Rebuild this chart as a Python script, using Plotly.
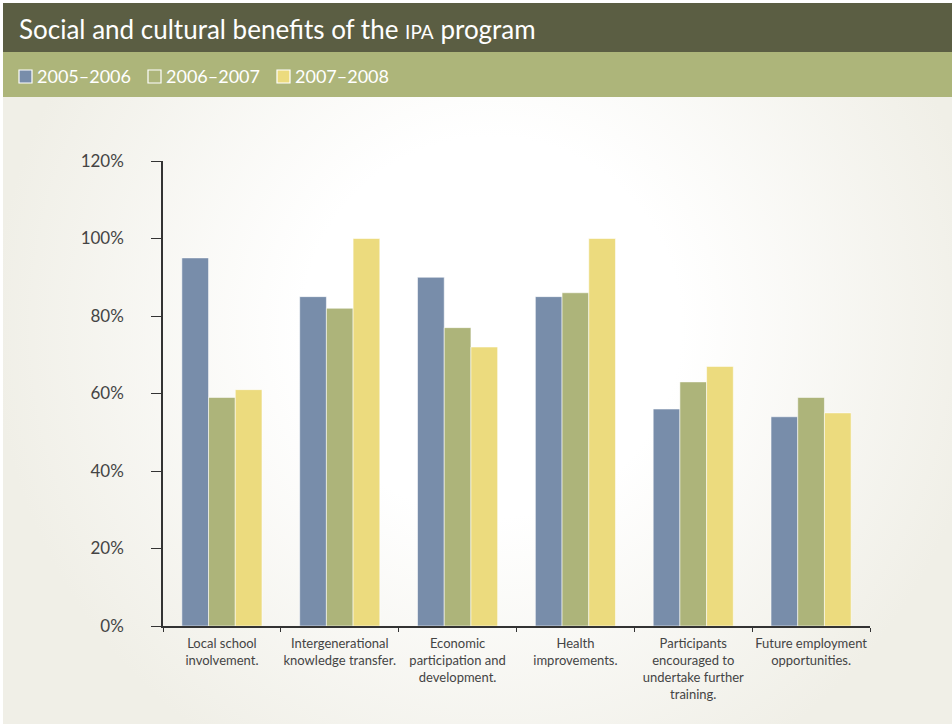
import base64
import plotly.graph_objects as go

categories = [
    "Local school<br>involvement.",
    "Intergenerational<br>knowledge transfer.",
    "Economic<br>participation and<br>development.",
    "Health<br>improvements.",
    "Participants<br>encouraged to<br>undertake further<br>training.",
    "Future employment<br>opportunities.",
]
series_names = ["2005–2006", "2006–2007", "2007–2008"]
values_2005_2006 = [95, 85, 90, 85, 56, 54]
values_2006_2007 = [59, 82, 77, 86, 63, 59]
values_2007_2008 = [61, 100, 72, 100, 67, 55]
y_tick_values = [0, 20, 40, 60, 80, 100, 120]
y_tick_labels = ["0%", "20%", "40%", "60%", "80%", "100%", "120%"]

colors = ["#788daa", "#adb47a", "#ecdb7e"]
W, H = 952, 724
L, R, T, B = 163, 870, 161, 626  # plot area pixel bounds
FONT = "Lato, 'Open Sans', sans-serif"


def px_x(p):
    return (p - L) / (R - L)


def px_y(p):
    return (B - p) / (B - T)


fig = go.Figure()
for name, vals, col in zip(series_names,
                           [values_2005_2006, values_2006_2007, values_2007_2008],
                           colors):
    fig.add_trace(go.Bar(
        x=categories, y=vals, name=name,
        marker=dict(color=col, line=dict(color="rgba(255,255,255,0.55)", width=1)),
        showlegend=False,
    ))

# radial gradient background (below header)
svg = (
    '<svg xmlns="http://www.w3.org/2000/svg" width="952" height="627" viewBox="0 0 952 627">'
    '<defs><radialGradient id="g" gradientUnits="userSpaceOnUse" cx="490" cy="230" r="500">'
    '<stop offset="0" stop-color="#ffffff"/>'
    '<stop offset="0.38" stop-color="#ffffff"/>'
    '<stop offset="1" stop-color="#f0efe7"/>'
    '</radialGradient></defs>'
    '<rect x="0" y="0" width="952" height="627" fill="url(#g)"/></svg>'
)
uri = "data:image/svg+xml;base64," + base64.b64encode(svg.encode()).decode()
fig.add_layout_image(dict(
    source=uri, xref="paper", yref="paper",
    x=px_x(3), y=px_y(97), sizex=(W - 3) / (R - L), sizey=(H - 97) / (B - T),
    sizing="stretch", xanchor="left", yanchor="top", layer="below",
))

shapes = [
    # header band
    dict(type="rect", xref="paper", yref="paper", x0=px_x(3), x1=px_x(W + 2),
         y0=px_y(52), y1=px_y(3), fillcolor="#5b5e43", line=dict(width=0), layer="below"),
    # legend band
    dict(type="rect", xref="paper", yref="paper", x0=px_x(3), x1=px_x(W + 2),
         y0=px_y(97), y1=px_y(52), fillcolor="#adb57a", line=dict(width=0), layer="below"),
]
annotations = [
    dict(xref="paper", yref="paper", x=px_x(17), y=px_y(29), xanchor="left", yanchor="middle",
         showarrow=False,
         text="Social and cultural benefits of the <span style='font-size:19px'>IPA</span> program",
         font=dict(family=FONT, size=26, color="#ffffff")),
]

legend_x = [19, 148, 277]
legend_fill = [colors[0], "rgba(0,0,0,0)", colors[2]]
for lx, fill, name in zip(legend_x, legend_fill, series_names):
    shapes.append(dict(type="rect", xref="paper", yref="paper",
                       x0=px_x(lx), x1=px_x(lx + 13), y0=px_y(83), y1=px_y(70),
                       fillcolor=fill, line=dict(color="#ffffff", width=1.2)))
    annotations.append(dict(xref="paper", yref="paper", x=px_x(lx + 16), y=px_y(76),
                            xanchor="left", yanchor="middle", showarrow=False, text=name,
                            font=dict(family=FONT, size=18, color="#ffffff")))

fig.update_layout(
    width=W, height=H,
    margin=dict(l=L, r=W - R, t=T, b=H - B, pad=0),
    paper_bgcolor="#ffffff", plot_bgcolor="rgba(0,0,0,0)",
    barmode="group", bargap=0.32, bargroupgap=0,
    shapes=shapes, annotations=annotations,
    font=dict(family=FONT, color="#444444"),
)
fig.update_xaxes(
    type="category", range=[-0.5, 5.5], showgrid=False, showline=True,
    linecolor="#333333", linewidth=1.5, ticks="outside", tickson="boundaries",
    ticklen=4, tickwidth=1.2, tickcolor="#333333", ticklabelstandoff=5,
    tickfont=dict(family=FONT, size=13, color="#444444"), tickangle=0,
)
fig.update_yaxes(
    range=[0, 120], tickvals=y_tick_values, ticktext=y_tick_labels,
    showgrid=False, zeroline=False, showline=True, linecolor="#333333", linewidth=1.5,
    ticks="outside", ticklen=10, tickwidth=1.2, tickcolor="#333333",
    ticklabelstandoff=24,
    tickfont=dict(family=FONT, size=17, color="#444444"),
)

fig.write_html("out.html")
